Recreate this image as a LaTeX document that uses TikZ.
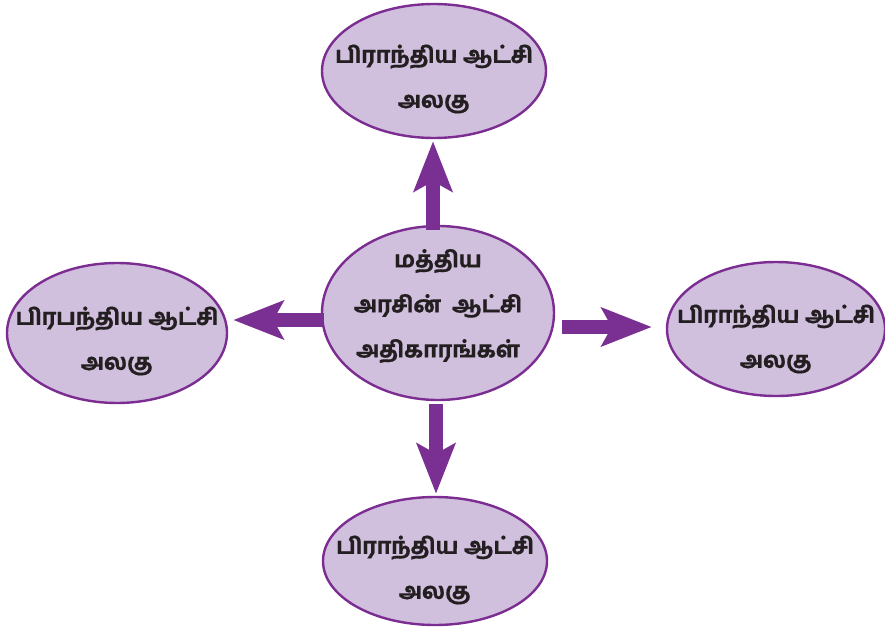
\documentclass[tikz,border=0pt]{standalone}
\usepackage{fontspec}
\newfontfamily\tamil[Script=Tamil, BoldFont={Hind Madurai Bold}, BoldFeatures={FakeBold=0.6}]{Hind Madurai}
\usetikzlibrary{shapes.geometric,arrows.meta}
\definecolor{efill}{RGB}{209,191,222}
\definecolor{edraw}{RGB}{123,45,145}
\definecolor{arrcol}{RGB}{122,47,146}
\definecolor{ink}{RGB}{35,31,32}
\tikzset{
  unit/.style={ellipse, draw=edraw, fill=efill, line width=2.4pt, inner sep=0pt},
  utext/.style={align=center, inner sep=0pt, font=\tamil\bfseries\fontsize{22.5}{45}\selectfont, text=ink},
  bigarrow/.style={draw=arrcol, line width=14pt,
    -{Stealth[length=50pt, width=38pt, inset=10pt, fill=arrcol]}}
}
\begin{document}
\begin{tikzpicture}[x=1pt,y=-1pt]
\useasboundingbox (0,0) rectangle (885,626);
\node[unit, minimum width=232pt, minimum height=174pt] (c) at (438,313) {};
\node[unit, minimum width=224pt, minimum height=134pt] (t) at (434,71) {};
\node[unit, minimum width=220pt, minimum height=140pt] (l) at (117,333) {};
\node[unit, minimum width=218pt, minimum height=134pt] (r) at (776,329) {};
\node[unit, minimum width=224pt, minimum height=128pt] (b) at (435,561) {};
\node[utext] (ct) at ([shift={(0,-7)}]c.center) {மத்திய\\அரசின்~ ஆட்சி\\அதிகாரங்கள்};
\node[utext] (tt) at ([shift={(0,8)}]t.center) {பிராந்திய ஆட்சி\\அலகு};
\node[utext] (lt) at ([shift={(0,8)}]l.center) {பிரபந்திய ஆட்சி\\அலகு};
\node[utext] (rt) at ([shift={(0,10)}]r.center) {பிராந்திய ஆட்சி\\அலகு};
\node[utext] (bt) at ([shift={(0,9)}]b.center) {பிராந்திய ஆட்சி\\அலகு};
\draw[bigarrow] ([shift={(-5,5)}]c.north) -- ([shift={(-1,2)}]t.south);
\draw[bigarrow] ([shift={(-2,3)}]c.south) -- ([shift={(1,-2)}]b.north);
\draw[bigarrow] ([shift={(3,7)}]c.west) -- ([shift={(5,-13)}]l.east);
\draw[bigarrow] ([shift={(7,14)}]c.east) -- ([shift={(-14,-2)}]r.west);
\end{tikzpicture}
\end{document}
